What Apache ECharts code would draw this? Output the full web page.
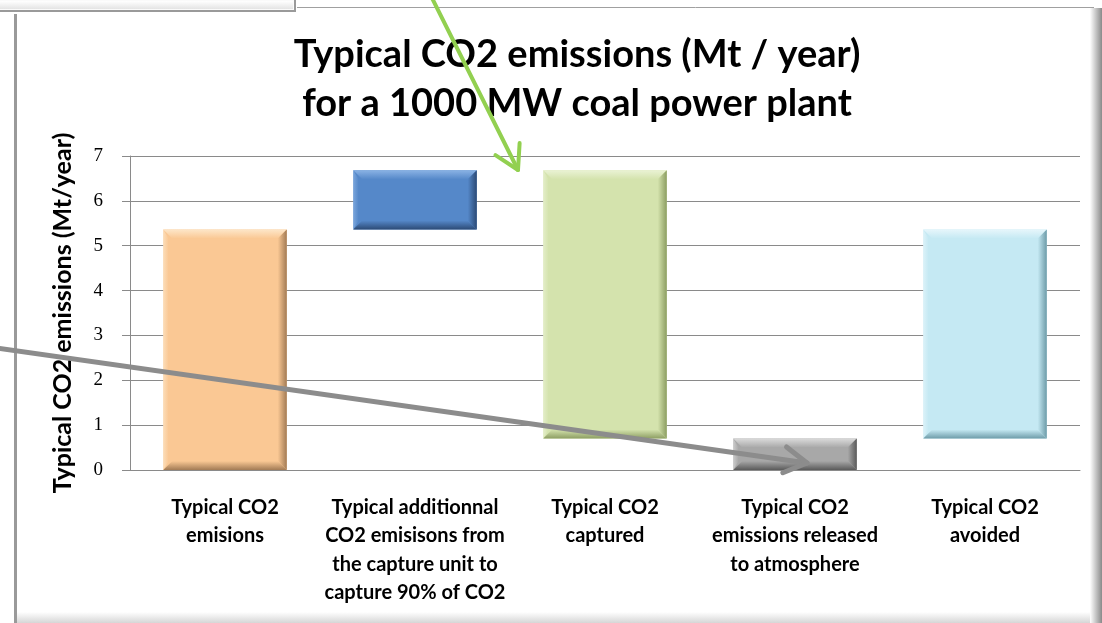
<!DOCTYPE html>
<html>
<head>
	<meta charset="UTF-8">
	<title>Typical CO2 emissions</title>
	<style type="text/css">
		html, body { margin: 0; padding: 0; background: #fff; }
		#main { width: 1102px; height: 623px; }
	</style>
</head>
<body>
	<div id="main"></div>
	<script type="text/javascript" src="https://cdn.jsdelivr.net/npm/echarts@6/dist/echarts.min.js"></script>
	<script>
		// categories
		var categories = [
			'Typical CO2\nemisions',
			'Typical additionnal\nCO2 emisisons from\nthe capture unit to\ncapture 90% of CO2',
			'Typical CO2\ncaptured',
			'Typical CO2\nemissions released\nto atmosphere',
			'Typical CO2\navoided'
		];
		// bottom and top of each floating bar (Mt/year)
		var barLow = [0, 5.36, 0.7, 0, 0.7];
		var barHigh = [5.36, 6.68, 6.68, 0.7, 5.36];
		var yTicks = [0, 1, 2, 3, 4, 5, 6, 7];

		// face / light bevel / dark bevel for each bar
		var palette = [
			{ face: '#fac894', light: '#fde6c8', dark: '#a27b55' },
			{ face: '#5588c9', light: '#8ab2e4', dark: '#2c4a75' },
			{ face: '#d4e3ad', light: '#eaf2d4', dark: '#8c9d62' },
			{ face: '#a8a8a8', light: '#dadada', dark: '#5a5a5a' },
			{ face: '#c5e9f3', light: '#e6f6fb', dark: '#6d9ba8' }
		];

		var barData = [];
		for (var i = 0; i < categories.length; i++) {
			barData.push([i, barLow[i], barHigh[i]]);
		}

		function grad(x2, y2, c1, c2) {
			return { type: 'linear', x: 0, y: 0, x2: x2, y2: y2, colorStops: [{ offset: 0, color: c1 }, { offset: 1, color: c2 }] };
		}

		// bevelled bar, drawn from the axis scales
		function renderBar(params, api) {
			var i = api.value(0);
			var lo = api.coord([i, api.value(1)]);
			var hi = api.coord([i, api.value(2)]);
			var w = api.size([1, 0])[0] * 0.65;
			var x0 = lo[0] - w / 2, x1 = lo[0] + w / 2;
			var yT = hi[1], yB = lo[1];
			var b = Math.min(9, (yB - yT) / 2.5);
			var c = palette[i];
			return {
				type: 'group',
				children: [
					{ type: 'rect', shape: { x: x0, y: yT, width: w, height: yB - yT }, style: { fill: c.face } },
					{ type: 'polygon', shape: { points: [[x0, yT], [x1, yT], [x1 - b, yT + b], [x0 + b, yT + b]] }, style: { fill: grad(0, 1, c.light, c.face) } },
					{ type: 'polygon', shape: { points: [[x0, yT], [x0 + b * 0.6, yT + b], [x0 + b * 0.6, yB - b], [x0, yB]] }, style: { fill: grad(1, 0, c.light, c.face), opacity: 0.7 } },
					{ type: 'polygon', shape: { points: [[x1, yT], [x1, yB], [x1 - b, yB - b], [x1 - b, yT + b]] }, style: { fill: grad(1, 0, c.face, c.dark) } },
					{ type: 'polygon', shape: { points: [[x0, yB], [x1, yB], [x1 - b, yB - b], [x0 + b, yB - b]] }, style: { fill: grad(0, 1, c.face, c.dark) } }
				]
			};
		}

		function arrow(x0, y0, x1, y1, color, width, wing) {
			var dx = x1 - x0, dy = y1 - y0;
			var len = Math.sqrt(dx * dx + dy * dy);
			var ux = -dx / len, uy = -dy / len;
			var c = Math.cos(Math.PI / 6), s = Math.sin(Math.PI / 6);
			var w1 = [x1 + wing * (ux * c - uy * s), y1 + wing * (ux * s + uy * c)];
			var w2 = [x1 + wing * (ux * c + uy * s), y1 + wing * (-ux * s + uy * c)];
			return {
				type: 'group', z: 100,
				children: [
					{ type: 'line', z: 100, shape: { x1: x0, y1: y0, x2: x1, y2: y1 }, style: { stroke: color, lineWidth: width, lineCap: 'round' } },
					{ type: 'polyline', z: 100, shape: { points: [w1, [x1, y1], w2] }, style: { stroke: color, lineWidth: width, lineCap: 'round', lineJoin: 'round', fill: null } }
				]
			};
		}

		var chart = echarts.init(document.getElementById('main'));
		var option = {
			backgroundColor: '#ffffff',
			animation: false,
			title: {
				text: 'Typical CO2 emissions (Mt / year)\nfor a 1000 MW coal power plant',
				left: 572,
				top: 25,
				textAlign: 'center',
				textStyle: { fontFamily: 'Lato', fontWeight: 'bold', fontSize: 38, lineHeight: 49, color: '#000' }
			},
			grid: { left: 130, right: 22, top: 156, bottom: 153 },
			xAxis: {
				type: 'category',
				data: categories,
				axisLine: { lineStyle: { color: '#8a8a8a', width: 1 } },
				axisTick: { show: false },
				axisLabel: { interval: 0, margin: 23, color: '#000', fontFamily: 'Lato', fontWeight: 'bold', fontSize: 20, lineHeight: 28.5 }
			},
			yAxis: {
				type: 'value',
				min: yTicks[0],
				max: yTicks[yTicks.length - 1],
				interval: 1,
				name: 'Typical CO2 emissions (Mt/year)',
				nameLocation: 'middle',
				nameGap: 55,
				nameTextStyle: { fontFamily: 'Lato', fontWeight: 'bold', fontSize: 25, color: '#000' },
				axisLine: { show: true, lineStyle: { color: '#8a8a8a', width: 1 } },
				axisTick: { show: true, length: 8, lineStyle: { color: '#8a8a8a' } },
				axisLabel: { margin: 27, color: '#000', fontFamily: 'Liberation Serif', fontSize: 19 },
				splitLine: { lineStyle: { color: '#8a8a8a', width: 1 } }
			},
			series: [{
				type: 'custom',
				renderItem: renderBar,
				data: barData,
				encode: { x: 0, y: [1, 2] }
			}],
			graphic: [
				// chart frame
				{ type: 'line', shape: { x1: 297, y1: 7.5, x2: 1094, y2: 7.5 }, style: { stroke: '#a0a0a0', lineWidth: 1 } },
				{ type: 'rect', shape: { x: 14, y: 14, width: 3, height: 609 }, style: { fill: '#9a9a9a' } },
				{ type: 'rect', shape: { x: 1090, y: 8, width: 12, height: 615 }, style: { fill: grad(1, 0, '#ffffff', '#8a8a8a') } },
				{ type: 'rect', shape: { x: 17, y: 612, width: 1073, height: 11 }, style: { fill: grad(0, 1, '#ffffff', '#d6d6d6') } },
				// box at the top left
				{ type: 'rect', shape: { x: -4, y: -6, width: 299, height: 17 }, style: { fill: '#fafafa', stroke: '#9a9a9a', lineWidth: 2 } },
				{ type: 'rect', shape: { x: 0, y: 1, width: 293, height: 8 }, style: { fill: grad(0, 1, '#ffffff', '#e4e4e4') } },
				// arrows
				arrow(-4, 348, 807, 463, '#8c8c8c', 5, 26),
				arrow(430, -6, 518, 170, '#92d050', 4, 27)
			]
		};
		chart.setOption(option);
	</script>
</body>
</html>
